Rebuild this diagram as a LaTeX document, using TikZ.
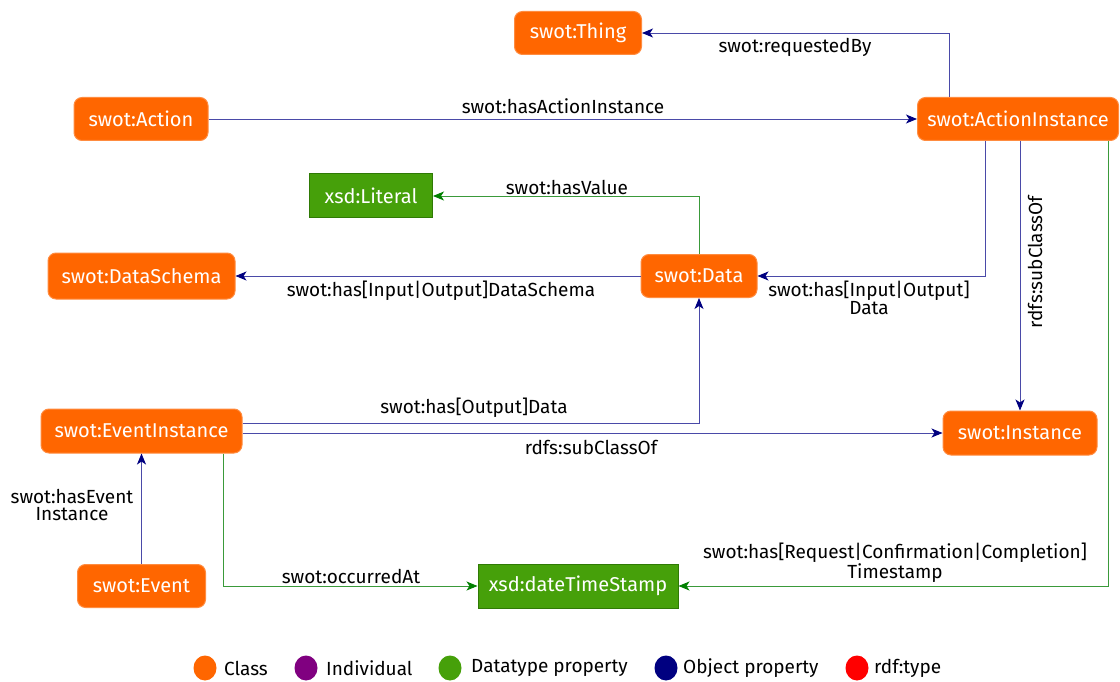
\documentclass[tikz,border=0pt]{standalone}
\usepackage{fontspec}
\setmainfont{Fira Sans}
\usetikzlibrary{arrows.meta,shapes.geometric}
\definecolor{clsor}{HTML}{FF6600}
\definecolor{clsbd}{HTML}{FF8C40}
\definecolor{dtgr}{HTML}{46A00A}
\definecolor{dtbd}{HTML}{2F7A05}
\definecolor{objln}{HTML}{4A4AA8}
\definecolor{objtip}{HTML}{000080}
\definecolor{grln}{HTML}{3A9A3A}
\definecolor{grtip}{HTML}{008000}
\definecolor{indiv}{HTML}{800080}
\begin{document}
\begin{tikzpicture}[x=1pt,y=-1pt,
  cls/.style={draw=clsbd,line width=1pt,fill=clsor,rounded corners=8pt,text=white,
    minimum height=43pt,inner sep=0pt,font=\fontsize{20}{22}\selectfont},
  dtype/.style={draw=dtbd,line width=1pt,fill=dtgr,text=white,
    minimum height=43pt,inner sep=0pt,font=\fontsize{20}{22}\selectfont},
  obj/.style={draw=objln,line width=0.9pt,-{Stealth[length=11pt,width=9pt,inset=3pt,color=objtip]}},
  dat/.style={draw=grln,line width=0.9pt,-{Stealth[length=11pt,width=9pt,inset=3pt,color=grtip]}},
  lbl/.style={font=\fontsize{19}{17}\selectfont,align=center,inner sep=0pt},
  legdot/.style={ellipse,minimum width=23pt,minimum height=25pt,inner sep=0pt},
  legtxt/.style={font=\fontsize{19}{20}\selectfont,anchor=west,inner sep=0pt}]
\useasboundingbox[fill=white] (0,0) rectangle (1120,682);

% nodes
\node[cls,minimum width=127pt] (thing) at (578,33) {swot:Thing};
\node[cls,minimum width=134pt] (action) at (141,119) {swot:Action};
\node[cls,minimum width=201pt] (ai) at (1018,119) {swot:ActionInstance};
\node[dtype,minimum width=123pt,minimum height=44pt] (lit) at (371,196) {xsd:Literal};
\node[cls,minimum width=187pt,minimum height=46pt] (schema) at (141.5,276) {swot:DataSchema};
\node[cls,minimum width=116pt] (data) at (699,276) {swot:Data};
\node[cls,minimum width=201pt,minimum height=44pt] (ei) at (141.5,431) {swot:EventInstance};
\node[cls,minimum width=154pt,minimum height=44pt] (inst) at (1020,433) {swot:Instance};
\node[cls,minimum width=128pt] (event) at (141.5,586) {swot:Event};
\node[dtype,minimum width=200pt,minimum height=44pt] (dts) at (578,586) {xsd:dateTimeStamp};

% edges
\draw[obj] ([xshift=-69pt]ai.north) |- (thing.east);
\draw[obj] (action.east) -- (ai.west);
\draw[dat] (data.north) |- (lit.east);
\draw[obj] (data.west) -- (schema.east);
\draw[obj] ([xshift=-33pt]ai.south) |- (data.east);
\draw[obj] (inst.north |- ai.south) -- (inst.north);
\draw[dat] ([xshift=90pt]ai.south) |- (dts.east);
\draw[obj] ([yshift=8pt]ei.east) -| (data.south);
\draw[obj] (ei.east |- inst.west) -- (inst.west);
\draw[obj] (event.north) -- (ei.south);
\draw[dat] ([xshift=81.5pt]ei.south) |- (dts.west);

% labels
\node[lbl] (l1) at (795,47) {swot:requestedBy};
\node[lbl] (l2) at (563,106) {swot:hasActionInstance};
\node[lbl] (l3) at (567,187) {swot:hasValue};
\node[lbl] (l4) at (441,291) {swot:has[Input|Output]DataSchema};
\node[lbl] (l5) at (869,298) {swot:has[Input|Output]\\Data};
\node[lbl,rotate=90] (l6) at (1035,262) {rdfs:subClassOf};
\node[lbl] (l7) at (474,408) {swot:has[Output]Data};
\node[lbl] (l8) at (591,447) {rdfs:subClassOf};
\node[lbl] (l9) at (72,505) {swot:hasEvent\\Instance};
\node[lbl] (l10) at (351,576) {swot:occurredAt};
\node[lbl] (l11) at (895,563) {swot:has[Request|Confirmation|Completion]\\Timestamp};

% legend
\node[legdot,fill=clsor] (d1) at (205,668) {};
\node[legtxt] (t1) at (224,668) {Class};
\node[legdot,fill=indiv] (d2) at (306,668) {};
\node[legtxt] (t2) at (326,668) {Individual};
\node[legdot,fill=dtgr] (d3) at (450,668) {};
\node[legtxt] (t3) at (471,668) {Datatype property};
\node[legdot,fill=objtip] (d4) at (666,668) {};
\node[legtxt] (t4) at (683,668) {Object property};
\node[legdot,fill=red] (d5) at (857,668) {};
\node[legtxt] (t5) at (874,668) {rdf:type};
\end{tikzpicture}
\end{document}
